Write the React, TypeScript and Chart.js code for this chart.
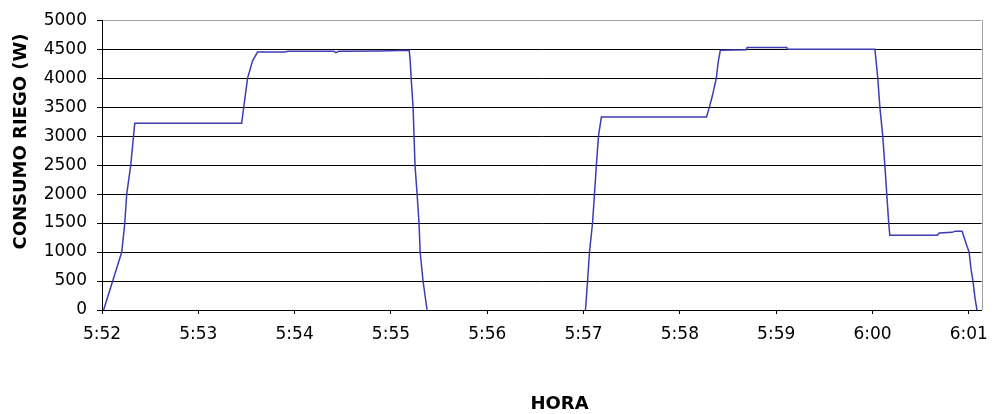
import React, { useEffect, useRef } from "react";
import { Chart, registerables } from "chart.js";

Chart.register(...registerables);

// Seconds elapsed since 5:52:00
const timeSeconds = [
  1, 12.3, 14.2, 15.4, 17.9, 20.4, 87, 88.3, 90.7, 93.8, 96.9, 113.6, 116, 144.4, 145.7, 147.5, 172.8, 191.4,
  192, 192.6, 193.8, 194.4, 195, 196.3, 197.5, 198.2, 200, 202.5,
  301.2, 302.5, 303.7, 305.6, 306.8, 308, 309.3, 311.1, 376.6, 378.4, 380.3, 382.7, 384, 385.2, 401.3, 401.9,
  426.6, 427.2, 481.5, 483.3, 484.6, 486.4, 487.7, 488.9, 490.1, 490.8, 520.4, 521.6, 529.7, 531.5, 535.8,
  537.1, 538.9, 540.2, 541.4, 542.6, 543.9, 545.1,
];

// Consumo riego (W)
const consumoW = [
  0, 1000, 1500, 2000, 2500, 3220, 3220, 3500, 4000, 4300, 4450, 4450, 4465, 4465, 4440, 4465, 4470, 4480,
  4300, 4000, 3500, 3000, 2500, 2000, 1500, 1000, 500, 0,
  0, 500, 1000, 1500, 2000, 2500, 3000, 3330, 3330, 3500, 3700, 4000, 4300, 4480, 4490, 4530,
  4530, 4500, 4500, 4000, 3500, 3000, 2500, 2000, 1500, 1290, 1290, 1330, 1340, 1360, 1360,
  1250, 1100, 1000, 700, 500, 200, 0,
];

const xTickSeconds = [0, 60, 120, 180, 240, 300, 360, 420, 480, 540];
const xTickLabels = ["5:52", "5:53", "5:54", "5:55", "5:56", "5:57", "5:58", "5:59", "6:00", "6:01"];
const xMaxSeconds = 548;

const yTitle = "CONSUMO RIEGO (W)";
const xTitle = "HORA";

export default function App() {
  const canvasRef = useRef<HTMLCanvasElement | null>(null);

  useEffect(() => {
    const canvas = canvasRef.current;
    if (!canvas) return;

    const points = timeSeconds.map((t, i) => ({ x: t, y: consumoW[i] }));

    const titlesPlugin = {
      id: "titles",
      afterDraw(chart: any) {
        const { ctx, chartArea } = chart;
        ctx.save();
        // right border
        ctx.strokeStyle = "#a0a0a0";
        ctx.lineWidth = 1;
        ctx.beginPath();
        const rx = Math.round(chartArea.right) + 0.5;
        ctx.moveTo(rx, chartArea.top);
        ctx.lineTo(rx, chartArea.bottom);
        ctx.stroke();

        ctx.fillStyle = "#000";
        ctx.font = "bold 18px 'DejaVu Sans'";
        ctx.textAlign = "center";
        ctx.textBaseline = "alphabetic";
        ctx.fillText(xTitle, 559.5, 409);

        ctx.translate(26, 141.5);
        ctx.rotate(-Math.PI / 2);
        ctx.fillText(yTitle, 0, 0);
        ctx.restore();
      },
    };

    const chart = new Chart(canvas, {
      type: "line",
      data: {
        datasets: [
          {
            data: points,
            borderColor: "#3c3cb4",
            borderWidth: 1.5,
            pointRadius: 0,
            tension: 0,
            fill: false,
            segment: {
              borderColor: (ctx: any) =>
                ctx.p0.parsed.y === 0 && ctx.p1.parsed.y === 0 ? "rgba(0,0,0,0)" : undefined,
            },
          },
        ],
      },
      options: {
        animation: false,
        responsive: false,
        layout: { padding: { top: 20, right: 8, left: 0, bottom: 0 } },
        plugins: {
          legend: { display: false },
          tooltip: { enabled: false },
        },
        scales: {
          x: {
            type: "linear",
            min: 0,
            max: xMaxSeconds,
            z: 1,
            afterFit: (scale: any) => {
              scale.height = 104;
            },
            afterBuildTicks: (scale: any) => {
              scale.ticks = xTickSeconds.map((v) => ({ value: v }));
            },
            ticks: {
              autoSkip: false,
              maxRotation: 0,
              padding: 10,
              color: "#000",
              font: { family: "'DejaVu Sans'", size: 17 },
              callback: (value: any) => {
                const idx = xTickSeconds.indexOf(Number(value));
                return idx >= 0 ? xTickLabels[idx] : "";
              },
            },
            grid: {
              drawOnChartArea: false,
              drawTicks: true,
              tickLength: 4,
              color: "#000",
            },
            border: { display: true, color: "#000", width: 1 },
          },
          y: {
            min: 0,
            max: 5000,
            afterFit: (scale: any) => {
              scale.width = 102;
            },
            ticks: {
              stepSize: 500,
              padding: 10,
              color: "#000",
              font: { family: "'DejaVu Sans'", size: 17 },
              callback: (value: any) => String(value),
            },
            grid: {
              color: (ctx: any) => (ctx.tick && ctx.tick.value === 5000 ? "#a0a0a0" : "#000"),
              tickColor: "#000",
              tickLength: 5,
              lineWidth: 1,
            },
            border: { display: true, color: "#000", width: 1 },
          },
        },
      },
      plugins: [titlesPlugin],
    });

    return () => {
      chart.destroy();
    };
  }, []);

  return (
    <div style={{ position: "fixed", left: 0, top: 0, width: 998, height: 414, background: "#fff" }}>
      <canvas ref={canvasRef} width={998} height={414} />
    </div>
  );
}
